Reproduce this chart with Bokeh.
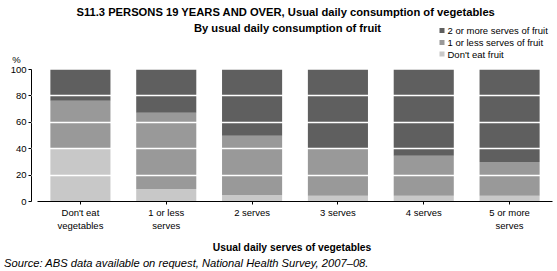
from bokeh.plotting import figure
from bokeh.models import ColumnDataSource, Range1d, FixedTicker
from bokeh.embed import file_html
from bokeh.resources import INLINE

# ---- data ----
categories = ["Don't eat\nvegetables", "1 or less\nserves", "2 serves", "3 serves", "4 serves", "5 or more\nserves"]
dont_eat_fruit = [40.2, 9.5, 5.0, 4.3, 4.3, 4.3]
one_or_less_fruit = [36.2, 57.8, 44.8, 35.1, 30.3, 25.7]
two_or_more_fruit = [23.6, 32.7, 50.2, 60.6, 65.4, 70.0]
series_names = ["Don't eat fruit", "1 or less serves of fruit", "2 or more serves of fruit"]
y_ticks = [0, 20, 40, 60, 80, 100]
title_lines = ["S11.3  PERSONS 19 YEARS AND OVER, Usual daily consumption of vegetables",
               "By usual daily consumption of fruit"]
x_title = "Usual daily serves of vegetables"
source_note = "Source: ABS data available on request, National Health Survey, 2007\u201308."

colors = ["#c8c8c8", "#999999", "#5f5f5f"]
FONT = "Liberation Sans"

W = 557
HEAD_H = 64
FOOT_H = 15
MAIN_H = 271 - HEAD_H - FOOT_H
LEFT, RIGHT = 31, 5
TOP = 5
FRAME_H = 132


def canvas(height):
    f = figure(width=W, height=height, output_backend="svg", toolbar_location=None,
               x_axis_type=None, y_axis_type=None,
               x_range=Range1d(0, W), y_range=Range1d(height, 0),
               min_border=0, min_border_left=0, min_border_right=0,
               min_border_top=0, min_border_bottom=0)
    f.outline_line_color = None
    return f


# ---------- header (titles, legend, % unit) ----------
head = canvas(HEAD_H)
head.text(x=[287, 287], y=[11.5, 27], text=title_lines, text_font={"value": FONT},
          text_font_size="11.2px", text_font_style="bold", text_color="black",
          text_align="center", text_baseline="middle")

leg_order = [2, 1, 0]
leg_y = [30, 42, 53.5]
head.scatter(x=[441.5] * 3, y=leg_y, marker="square", size=5, line_color=None,
             fill_color=[colors[i] for i in leg_order])
head.text(x=[447] * 3, y=leg_y, text=[series_names[i] for i in leg_order],
          text_font={"value": FONT}, text_font_size="9.5px", text_color="black",
          text_align="left", text_baseline="middle")
head.text(x=[16], y=[58.5], text=["%"], text_font={"value": FONT}, text_font_size="9.5px",
          text_color="black", text_align="center", text_baseline="middle")

# ---------- main chart ----------
frame_w = W - LEFT - RIGHT
cat_px = (frame_w - 6) / len(categories)
x_start = -6 / cat_px

xs = [i + 0.5 for i in range(len(categories))]
src = ColumnDataSource(dict(x=xs, s0=dont_eat_fruit, s1=one_or_less_fruit, s2=two_or_more_fruit))

p = figure(width=W, height=MAIN_H, output_backend="svg", toolbar_location=None,
           x_range=Range1d(x_start, len(categories)), y_range=Range1d(0, 100),
           min_border_left=LEFT, min_border_right=RIGHT, min_border_top=TOP,
           min_border_bottom=MAIN_H - TOP - FRAME_H)
p.outline_line_color = None

p.vbar_stack(["s0", "s1", "s2"], x="x", width=0.7, color=colors, line_color=None, source=src)

p.xgrid.visible = False
p.ygrid.ticker = FixedTicker(ticks=[20, 40, 60, 80])
p.ygrid.grid_line_color = "white"
p.ygrid.grid_line_width = 1.3
p.ygrid.level = "overlay"

ya = p.yaxis[0]
ya.ticker = FixedTicker(ticks=y_ticks)
ya.bounds = (0, 100)
ya.major_tick_out = 3
ya.major_tick_in = 0
ya.minor_tick_line_color = None
ya.axis_line_color = "black"
ya.major_label_text_font = FONT
ya.major_label_text_font_size = "9.5px"
ya.major_label_text_color = "black"
ya.major_label_standoff = 2

xa = p.xaxis[0]
xa.ticker = FixedTicker(ticks=xs)
xa.major_label_overrides = {x: c for x, c in zip(xs, categories)}
xa.bounds = (0, len(categories))
xa.major_tick_out = 3
xa.major_tick_in = 0
xa.minor_tick_line_color = None
xa.axis_line_color = "black"
xa.major_label_text_font = FONT
xa.major_label_text_font_size = "9.5px"
xa.major_label_text_color = "black"
xa.major_label_standoff = 2
xa.axis_label = x_title
xa.axis_label_text_font = FONT
xa.axis_label_text_font_style = "bold"
xa.axis_label_text_font_size = "10.3px"
xa.axis_label_text_color = "black"
xa.axis_label_text_line_height = 1.0
xa.axis_label_standoff = 8

# ---------- footer (source note) ----------
foot = canvas(FOOT_H)
foot.text(x=[3.5], y=[6.5], text=[source_note], text_font={"value": FONT},
          text_font_size="11.2px", text_font_style="italic", text_color="black",
          text_align="left", text_baseline="middle")

# separate roots, stacked on the page (no frame alignment between them)
open("out.html", "w").write(file_html([head, p, foot], INLINE))
